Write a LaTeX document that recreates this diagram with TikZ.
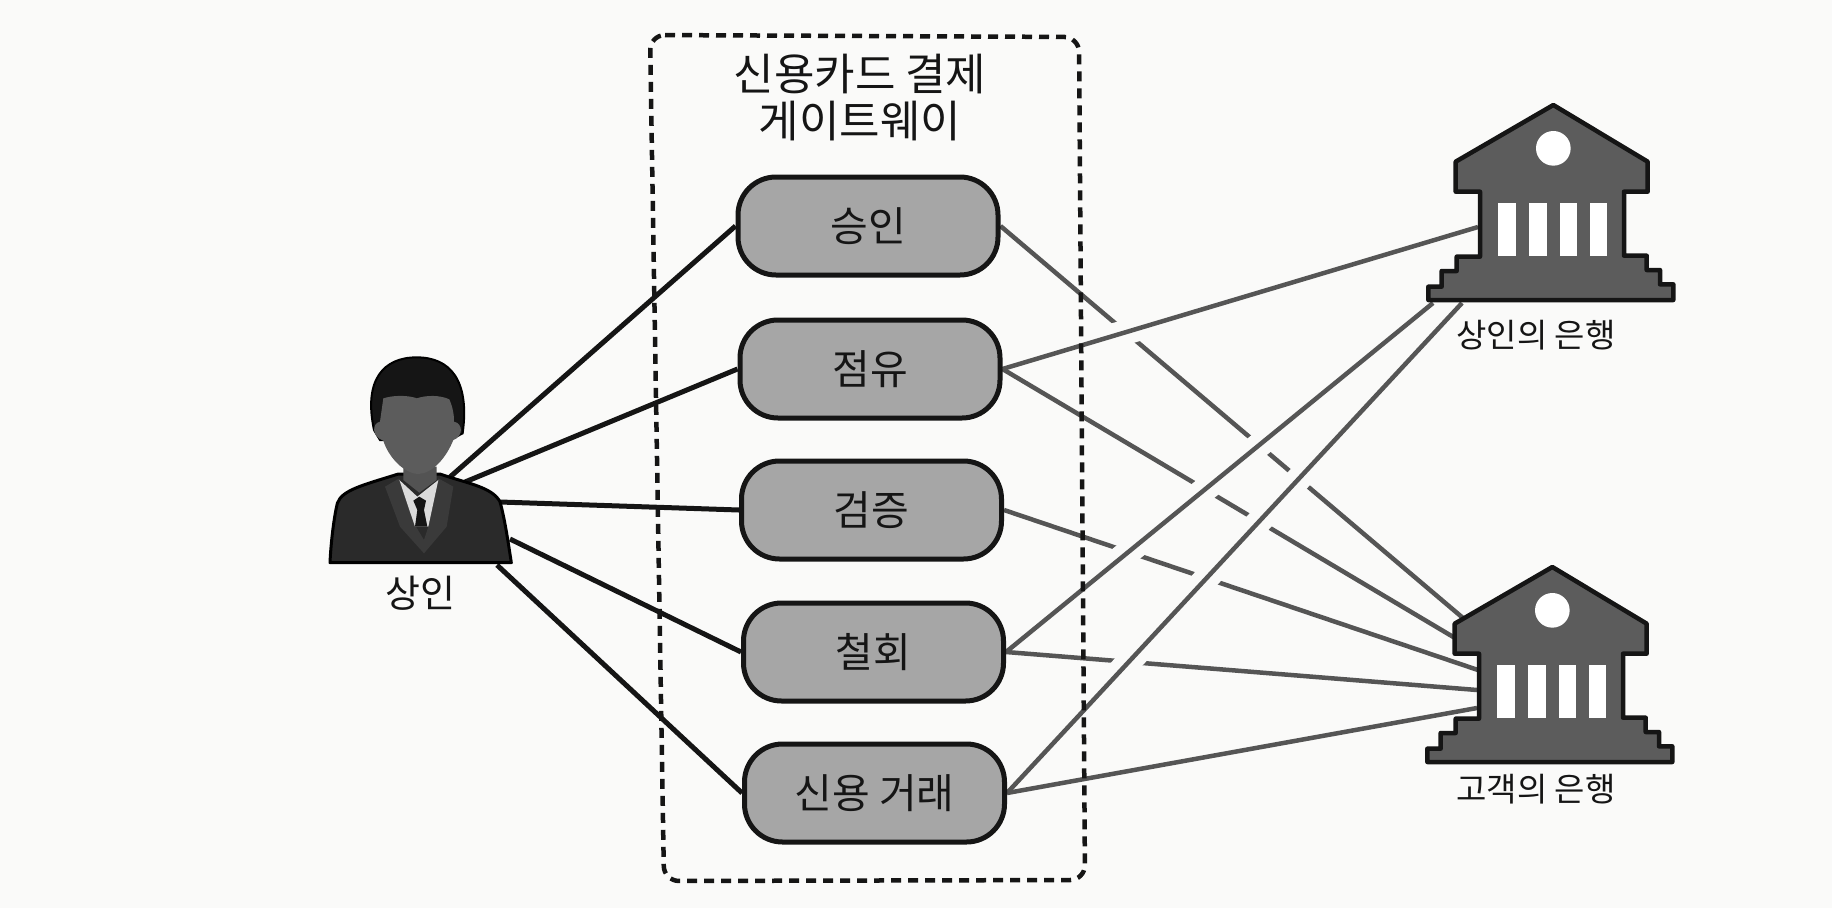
\documentclass[tikz,border=0pt]{standalone}
\usepackage{fontspec}
\setmainfont{Noto Sans CJK KR}
\definecolor{paper}{HTML}{FAFAF9}
\definecolor{boxgray}{HTML}{A6A6A6}
\definecolor{icongray}{HTML}{5C5C5C}
\definecolor{wire}{HTML}{555555}
\definecolor{ink}{HTML}{151515}
\definecolor{suit}{HTML}{2A2A2A}
\definecolor{lapel}{HTML}{3A3A3A}
\pgfdeclarelayer{wires}
\pgfsetlayers{wires,main}
\tikzset{
  x=1pt,y=-1pt,
  funcbox/.style={draw=ink,fill=boxgray,line width=5pt,rounded corners=38pt,minimum width=260pt,minimum height=98pt,inner sep=0pt,text=ink,font=\fontsize{41}{46}\selectfont},
  caption/.style={text=ink,inner sep=0pt,font=\fontsize{38}{44}\selectfont},
  bankcaption/.style={text=ink,inner sep=0pt,font=\fontsize{33}{40}\selectfont},
  titletext/.style={text=ink,inner sep=0pt,align=center,font=\fontsize{44}{47}\selectfont},
  merchwire/.style={draw=ink,line width=5pt},
  bankwire/.style={draw=wire,line width=4.5pt},
  halo/.style={draw=paper,line width=25pt,shorten <=60pt},
  gateframe/.style={draw=ink,line width=4.5pt,dash pattern=on 10pt off 7pt,rounded corners=15pt},
  bank/.pic={
    \begin{scope}[scale=1/3]
    \draw[fill=icongray,draw=ink,line width=4.5pt,line join=round]
      (400,45)--(107,215)--(107,305)--(180,305)--(180,500)--(110,500)--(110,543)--(65,543)--(65,590)--(25,590)--(25,630)
      --(760,630)--(760,583)--(720,583)--(720,540)--(680,540)--(680,497)--(612,497)--(612,305)--(683,305)--(683,215)--cycle;
    \fill[white] (400,175) circle[radius=52];
    \foreach \a/\b in {235/287,327/380,420/470,510/560}{\fill[white] (\a,340) rectangle (\b,497);}
    \end{scope}
  }
}
\begin{document}
\begin{tikzpicture}
\useasboundingbox (0,0) rectangle (1832,908);

% person
\begin{scope}[shift={(300,340)},scale=1/3]
  \draw[fill=suit,draw=black,line width=3pt,line join=round]
    (90,668) .. controls (92,620) and (100,540) .. (112,490)
    .. controls (125,450) and (190,435) .. (295,402)
    -- (420,402)
    .. controls (500,430) and (575,440) .. (600,485)
    .. controls (615,540) and (625,610) .. (634,668) -- cycle;
  \fill[lapel] (255,440) -- (298,415) -- (348,560) -- (372,600) -- (385,560) -- (415,415) -- (460,440) -- (440,560) -- (372,640) -- (300,560) -- cycle;
  \fill[black!14] (298,420) -- (352,470) -- (415,420) -- (385,560) -- (345,560) -- cycle;
  \fill[ink] (340,482) -- (358,470) -- (378,482) -- (372,510) -- (382,560) -- (345,560) -- (352,510) -- cycle;
  \fill[ink,draw=black,line width=2pt]
    (222,270) .. controls (190,120) and (250,52) .. (350,52)
    .. controls (450,52) and (510,120) .. (488,280)
    -- (450,300) -- (240,300) -- cycle;
  \fill[icongray!90!black] (310,380) -- (410,380) -- (410,420) -- (358,458) -- (310,420) -- cycle;
  \fill[icongray] (250,175)
    .. controls (300,160) and (345,172) .. (350,175)
    .. controls (380,165) and (420,165) .. (448,178)
    .. controls (462,210) and (462,235) .. (462,245)
    .. controls (490,250) and (490,290) .. (460,300)
    .. controls (440,350) and (400,400) .. (355,402)
    .. controls (310,400) and (265,350) .. (250,302)
    .. controls (215,290) and (215,250) .. (240,245) -- cycle;
\end{scope}

% bank icons
\pic at (1420,90) {bank};
\pic at (1419,552) {bank};

% wire ends at the icons
\coordinate (pa) at (450,477);
\coordinate (pb) at (465,482);
\coordinate (pc) at (500,502);
\coordinate (pd) at (510,539);
\coordinate (pe) at (497,565);
\coordinate (ma) at (1478,227);
\coordinate (mb) at (1433,303);
\coordinate (mc) at (1462,303);
\coordinate (ca) at (1463,618);
\coordinate (cb) at (1455,638);
\coordinate (cc) at (1478,670);
\coordinate (cd) at (1477,690);
\coordinate (ce) at (1477,708);

% gateway frame
\draw[gateframe] (650,35) -- (1079,37) -- (1085,880) -- (664,881) -- cycle;
\node[titletext] (gwtitle) at (860,98) {신용카드 결제\\게이트웨이};

% function boxes
\node[funcbox] (a) at (868,226) {승인};
\node[funcbox] (b) at (870,369) {점유};
\node[funcbox] (c) at (871.5,510) {검증};
\node[funcbox] (d) at (873.5,652) {철회};
\node[funcbox] (e) at (874.5,793) {신용 거래};

% captions
\node[caption] (merchant) at (420,593) {상인};
\node[bankcaption] (mbank) at (1536,335) {상인의 은행};
\node[bankcaption] (cbank) at (1536,789) {고객의 은행};

\begin{pgfonlayer}{wires}
\fill[paper] (0,0) rectangle (1832,908);
% wires to the customer's bank pass under
\draw[bankwire] (a.east) -- (ca);
\draw[bankwire] (b.east) -- (cb);
\draw[bankwire] (c.east) -- (cc);
\draw[bankwire] (d.east) -- (cd);
\draw[bankwire] (e.east) -- (ce);
% gaps where the merchant's bank wires pass over
\draw[halo] (b.east) -- (ma);
\draw[halo] (d.east) -- (mb);
\draw[halo] (e.east) -- (mc);
% wires to the merchant's bank
\draw[bankwire] (b.east) -- (ma);
\draw[bankwire] (d.east) -- (mb);
\draw[bankwire] (e.east) -- (mc);
% merchant wires
\draw[merchwire] (pa) -- (a.west);
\draw[merchwire] (pb) -- (b.west);
\draw[merchwire] (pc) -- (c.west);
\draw[merchwire] (pd) -- (d.west);
\draw[merchwire] (pe) -- (e.west);
\end{pgfonlayer}
\end{tikzpicture}
\end{document}
